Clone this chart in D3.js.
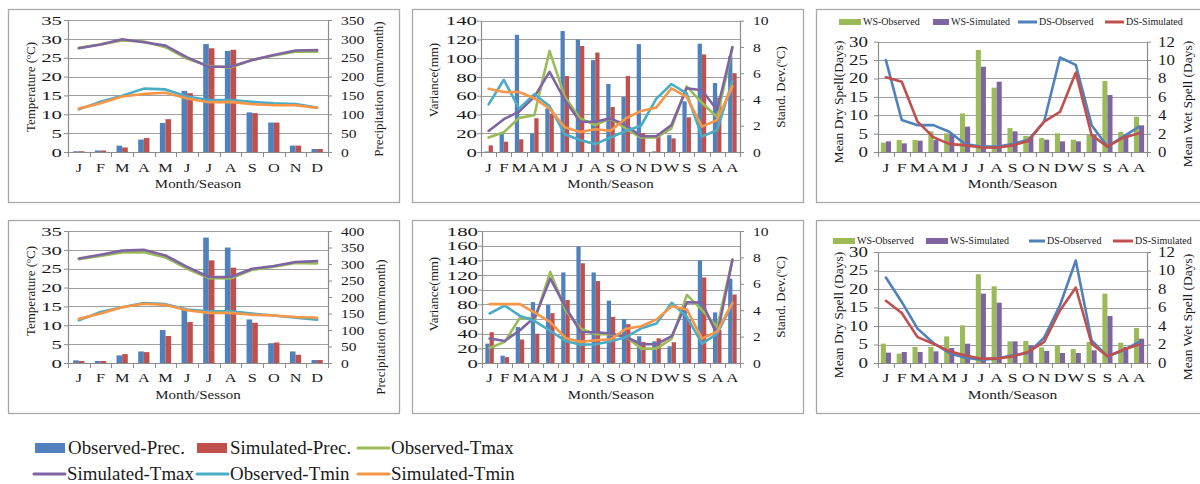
<!DOCTYPE html>
<html>
<head>
<meta charset="utf-8">
<script src="https://cdn.jsdelivr.net/npm/d3@7"></script>
<style>
  body { margin: 0; background: #fff; }
  svg { display: block; }
  text { font-family: "Liberation Serif", "Times New Roman", serif; fill: #1a1a1a; }
</style>
</head>
<body>
<svg id="chart" width="1200" height="484"></svg>
<script>
// ---- categories ----
const months = ["J","F","M","A","M","J","J","A","S","O","N","D"];
const monthsSeasons = ["J","F","M","A","M","J","J","A","S","O","N","D","W","S","S","A","A"];

// ---- tick labels ----
const tempTicks = [0,5,10,15,20,25,30,35];
const precTicksTop = [0,50,100,150,200,250,300,350];
const precTicksBottom = [0,50,100,150,200,250,300,350,400];
const varTicksTop = [0,20,40,60,80,100,120,140];
const varTicksBottom = [0,20,40,60,80,100,120,140,160,180];
const sdTicks = [0,2,4,6,8,10];
const dryTicks = [0,5,10,15,20,25,30];
const wetTicks = [0,2,4,6,8,10,12];

// ---- station A: monthly precipitation (mm/month) and temperature (°C) ----
const obsPrecA = [2,4,17,33,77,162,286,268,105,78,17,8];
const simPrecA = [2,4,12,37,87,156,275,271,103,78,17,8];
const obsTmaxA = [27.6,28.5,29.6,29.3,27.8,24.7,22.8,22.4,24.4,25.6,26.6,26.6];
const simTmaxA = [27.5,28.5,29.9,29.1,28.2,25.1,22.6,22.6,24.4,25.7,26.9,27.0];
const obsTminA = [11.3,13.3,14.9,16.8,16.6,14.7,13.8,13.8,13.3,12.9,12.7,11.8];
const simTminA = [11.5,12.9,14.7,15.4,15.7,14.2,13.2,13.3,12.7,12.4,12.4,11.7];

// ---- station B: monthly precipitation (mm/month) and temperature (°C) ----
const obsPrecB = [8,6,23,35,100,167,380,350,132,60,35,9];
const simPrecB = [6,6,27,33,82,124,311,289,122,62,25,9];
const obsTmaxB = [27.5,28.4,29.3,29.4,28.0,25.0,22.5,22.4,24.7,25.5,26.5,26.4];
const simTmaxB = [27.7,28.7,29.8,30.0,28.5,25.5,22.8,22.8,25.0,25.7,26.8,27.0];
const obsTminB = [11.3,13.5,14.8,15.9,15.6,14.2,13.7,13.7,13.1,12.6,12.0,11.5];
const simTminB = [11.7,13.1,14.8,15.7,15.4,14.0,13.3,13.3,12.8,12.6,12.2,12.0];

// ---- station A: variance of precipitation (mm) and std. dev. of temperature (°C) ----
const obsVarA = [0.5,21,125,20,46.5,129,120,98,72.5,58.6,115,0.7,18,54,115.5,73.5,102];
const simVarA = [7,11,13.5,36,41,81,113,106,48,81,20,18,14.5,37,104,58,84];
const obsSdTmaxA = [1.1,1.5,2.6,2.8,7.7,4.2,2.56,2.05,2.56,1.8,1.1,1.1,1.8,5.0,3.75,2.65,7.9];
const simSdTmaxA = [1.6,2.5,3.07,4.2,6.1,3.96,2.3,2.3,2.56,2.05,1.2,1.2,2.05,4.85,4.7,3.2,8.0];
const obsSdTminA = [3.63,5.5,3.3,4.4,3.5,1.35,0.91,0.6,1.1,1.6,2.0,4.05,5.18,4.47,1.17,1.68,5.4];
const simSdTminA = [4.82,4.57,4.57,4.09,3.3,1.88,1.52,1.73,1.62,2.56,3.12,3.38,4.85,4.2,1.93,2.44,5.0];

// ---- station B: variance of precipitation (mm) and std. dev. of temperature (°C) ----
const obsVarB = [26.4,10,49,83,79,123.5,158.6,123.5,85,60,36.5,29.6,22.8,72,140,69,115];
const simVarB = [42,8,32,40,68,86,136,111.7,63,53,28.7,33.7,28.3,60,116.7,45,93.4];
const obsSdTmaxB = [1.14,1.6,3.44,3.37,6.9,4.0,2.6,2.18,2.18,1.97,1.09,1.09,1.85,5.16,4.0,2.73,7.85];
const simSdTmaxB = [1.85,1.67,2.48,3.5,6.4,4.25,2.35,2.33,2.23,1.97,1.42,1.42,2.03,4.6,4.58,2.1,7.8];
const obsSdTminB = [3.75,4.35,3.57,3.16,2.43,1.67,1.39,1.42,1.65,1.97,2.63,3.0,4.56,3.5,1.47,2.23,4.5];
const simSdTminB = [4.46,4.46,4.46,3.8,3.1,1.9,1.6,1.72,1.8,2.6,2.78,3.3,4.3,4.05,1.85,2.4,4.56];

// ---- station A: mean wet spell (days, bars) and mean dry spell (days, lines) ----
const wsObsA = [1.02,1.3,1.3,2.25,2.03,4.2,11.1,7.0,2.6,1.74,1.52,2.03,1.34,1.85,7.72,2.18,3.84];
const wsSimA = [1.16,0.94,1.23,1.3,1.92,2.76,9.28,7.65,2.25,1.67,1.34,1.16,1.16,1.89,6.2,1.81,2.9];
const dsObsA = [25.0,8.7,7.3,7.3,5.5,2.2,1.5,1.45,2.2,3.3,8.3,25.7,23.7,7.3,1.5,4.2,6.9];
const dsSimA = [20.3,19.1,8.25,4.0,2.2,1.8,1.27,1.18,1.8,3.0,8.25,10.9,21.6,4.6,1.45,3.9,5.1];

// ---- station B: mean wet spell (days, bars) and mean dry spell (days, lines) ----
const wsObsB = [2.09,1.01,1.73,1.73,2.88,4.07,9.59,8.29,2.34,2.38,1.69,1.84,1.51,2.27,7.5,2.2,3.78];
const wsSimB = [1.12,1.19,1.19,1.26,1.62,2.09,7.5,6.52,2.34,1.91,1.3,1.08,1.08,1.37,5.08,1.73,2.63];
const dsObsB = [23.1,16.5,9.3,5.4,2.7,1.44,0.9,1.17,2.07,2.7,6.85,15.6,27.7,6.1,1.8,3.4,5.7];
const dsSimB = [16.8,13.5,7.0,5.2,3.2,2.07,1.17,1.17,1.8,3.0,5.7,14.2,20.4,5.2,1.8,3.6,5.0];

// ---- palette ----
const C = {
  blue: "#4F81BD", red: "#C0504D", green: "#9BBB59",
  purple: "#8064A2", aqua: "#4BACC6", orange: "#F79646"
};
const GRID = "#a0a0a0", AXIS = "#8c8c8c", FRAME = "#a8a8a8";

const svg = d3.select("#chart");

function drawPanel(p) {
  const g = svg.append("g");
  const [fx0, fy0, fx1, fy1] = p.frame;
  g.append("rect")
    .attr("x", fx0 + 0.5).attr("y", fy0 + 0.5)
    .attr("width", fx1 - fx0).attr("height", fy1 - fy0)
    .attr("fill", "#fff").attr("stroke", FRAME).attr("stroke-width", 1.3);

  const n = p.cats.length;
  const x = d3.scaleBand().domain(d3.range(n)).range([p.x0, p.x1]);
  const yL = d3.scaleLinear().domain([0, d3.max(p.lTicks)]).range([p.y1, p.y0]);
  const yR = d3.scaleLinear().domain([0, d3.max(p.rTicks)]).range([p.y1, p.y0]);
  const cx = j => x(j) + x.bandwidth() / 2;

  // horizontal gridlines on the primary axis
  g.append("g").selectAll("line").data(p.lTicks.slice(1)).join("line")
    .attr("x1", p.x0).attr("x2", p.x1)
    .attr("y1", d => Math.round(yL(d)) + 0.5).attr("y2", d => Math.round(yL(d)) + 0.5)
    .attr("stroke", GRID).attr("stroke-width", 1);

  // clustered bars
  const yB = p.barsOn === "L" ? yL : yR;
  const bw = x.bandwidth() * p.barRatio;
  p.bars.forEach((s, i) => {
    g.append("g").selectAll("rect").data(s.values).join("rect")
      .attr("x", (d, j) => cx(j) - bw + i * bw)
      .attr("width", bw)
      .attr("y", d => yB(d))
      .attr("height", d => yB(0) - yB(d))
      .attr("fill", s.color);
  });

  // axes
  const axL = g.append("g").attr("transform", `translate(${p.x0},0)`)
    .call(d3.axisLeft(yL).tickValues(p.lTicks).tickSize(4).tickSizeOuter(0));
  const axR = g.append("g").attr("transform", `translate(${p.x1},0)`)
    .call(d3.axisRight(yR).tickValues(p.rTicks).tickSize(4).tickSizeOuter(0));
  const axB = g.append("g").attr("transform", `translate(0,${p.y1})`)
    .call(d3.axisBottom(x).tickFormat(j => p.cats[j]).tickSize(0));

  [axL, axR, axB].forEach(a => {
    a.select(".domain").attr("stroke", AXIS).attr("stroke-width", 1.2);
    a.selectAll(".tick line").attr("stroke", AXIS);
  });
  axL.selectAll("text")
    .attr("font-size", p.tickFont).attr("font-family", null)
    .attr("x", -p.lGap / p.lStretch)
    .attr("transform", `scale(${p.lStretch},1)`);
  axR.selectAll("text")
    .attr("font-size", p.tickFont).attr("font-family", null)
    .attr("x", p.rGap / p.rStretch)
    .attr("transform", `scale(${p.rStretch},1)`);
  axB.selectAll("text")
    .attr("font-size", p.catFont).attr("font-family", null)
    .attr("y", p.catY - p.y1).attr("dy", "0.35em")
    .attr("transform", `scale(${p.catStretch},1)`);

  // category boundary tick marks
  const bounds = d3.range(n).map(j => x(j)).concat([x.range()[1]]);
  g.append("g").selectAll("line").data(bounds).join("line")
    .attr("x1", d => Math.round(d) + 0.5).attr("x2", d => Math.round(d) + 0.5)
    .attr("y1", p.y1).attr("y2", p.y1 + 5)
    .attr("stroke", AXIS);

  // lines
  const yLn = p.linesOn === "L" ? yL : yR;
  const line = d3.line().x((d, j) => cx(j)).y(d => yLn(d));
  p.lines.forEach(s => {
    g.append("path").datum(s.values)
      .attr("d", line).attr("fill", "none")
      .attr("stroke", s.color).attr("stroke-width", 2.6)
      .attr("stroke-linejoin", "round").attr("stroke-linecap", "round");
  });

  // titles
  g.append("text")
    .attr("transform", `translate(${(p.x0 + p.x1) / 2},${p.xTitleY}) scale(1.15,1)`)
    .attr("text-anchor", "middle").attr("dy", "0.35em")
    .attr("font-size", p.titleFont)
    .text(p.xTitle);
  g.append("text")
    .attr("transform", `translate(${p.lTitle[1]},${p.lTitle[2]}) rotate(-90)`)
    .attr("text-anchor", "middle").attr("dy", "0.35em")
    .attr("font-size", p.titleFont).text(p.lTitle[0]);
  g.append("text")
    .attr("transform", `translate(${p.rTitle[1]},${p.rTitle[2]}) rotate(-90)`)
    .attr("text-anchor", "middle").attr("dy", "0.35em")
    .attr("font-size", p.titleFont).text(p.rTitle[0]);

  // in-panel legend (spell charts)
  if (p.legend) {
    p.legend.items.forEach(it => {
      if (it.type === "bar") {
        g.append("rect").attr("x", it.x).attr("y", p.legend.y - 3)
          .attr("width", it.w).attr("height", 6).attr("fill", it.color);
      } else {
        g.append("line").attr("x1", it.x).attr("x2", it.x + it.w)
          .attr("y1", p.legend.y).attr("y2", p.legend.y)
          .attr("stroke", it.color).attr("stroke-width", 3);
      }
      g.append("text").attr("x", it.x + it.w + 2).attr("y", p.legend.y)
        .attr("dy", "0.32em").attr("font-size", 10).text(it.label);
    });
  }
}

const climateCommon = {
  cats: months, barsOn: "R", linesOn: "L", barRatio: 0.26,
  tickFont: 13, lGap: 6, lStretch: 1.6, rGap: 13, rStretch: 1.2,
  catFont: 13, catStretch: 1.25, titleFont: 13
};

drawPanel(Object.assign({}, climateCommon, {
  frame: [8, 9, 399, 202], x0: 68, x1: 328, y0: 20, y1: 152,
  lTicks: tempTicks, rTicks: precTicksTop, catY: 167, xTitleY: 183,
  xTitle: "Month/Season",
  lTitle: ["Temperature (ºC)", 30, 87], rTitle: ["Precipitation (mm/month)", 378, 89],
  bars: [{ values: obsPrecA, color: C.blue }, { values: simPrecA, color: C.red }],
  lines: [
    { values: obsTmaxA, color: C.green }, { values: simTmaxA, color: C.purple },
    { values: obsTminA, color: C.aqua }, { values: simTminA, color: C.orange }
  ]
}));

drawPanel(Object.assign({}, climateCommon, {
  frame: [8, 220, 399, 413], x0: 68, x1: 328, y0: 231, y1: 363,
  lTicks: tempTicks, rTicks: precTicksBottom, catY: 377, xTitleY: 394,
  xTitle: "Month/Sesson",
  lTitle: ["Temperature (ºC)", 30, 291], rTitle: ["Precipitation (mm/month)", 380, 327],
  bars: [{ values: obsPrecB, color: C.blue }, { values: simPrecB, color: C.red }],
  lines: [
    { values: obsTmaxB, color: C.green }, { values: simTmaxB, color: C.purple },
    { values: obsTminB, color: C.aqua }, { values: simTminB, color: C.orange }
  ]
}));

const varCommon = {
  cats: monthsSeasons, barsOn: "L", linesOn: "R", barRatio: 0.28,
  tickFont: 13, lGap: 4, lStretch: 1.6, rGap: 13, rStretch: 1.2,
  catFont: 13, catStretch: 1.3, titleFont: 13
};

drawPanel(Object.assign({}, varCommon, {
  frame: [412, 9, 803, 202], x0: 481, x1: 740, y0: 20.7, y1: 152,
  lTicks: varTicksTop, rTicks: sdTicks, catY: 167, xTitleY: 183,
  xTitle: "Month/Season",
  lTitle: ["Variance(mm)", 433, 80], rTitle: ["Stand. Dev.(ºC)", 780, 87],
  bars: [{ values: obsVarA, color: C.blue }, { values: simVarA, color: C.red }],
  lines: [
    { values: obsSdTmaxA, color: C.green }, { values: simSdTmaxA, color: C.purple },
    { values: obsSdTminA, color: C.aqua }, { values: simSdTminA, color: C.orange }
  ]
}));

drawPanel(Object.assign({}, varCommon, {
  frame: [412, 220, 803, 413], x0: 482, x1: 740, y0: 231, y1: 363,
  lTicks: varTicksBottom, rTicks: sdTicks, catY: 377, xTitleY: 394,
  xTitle: "Month/Season",
  lTitle: ["Variance(mm)", 433, 294], rTitle: ["Stand. Dev.(ºC)", 780, 297],
  bars: [{ values: obsVarB, color: C.blue }, { values: simVarB, color: C.red }],
  lines: [
    { values: obsSdTmaxB, color: C.green }, { values: simSdTmaxB, color: C.purple },
    { values: obsSdTminB, color: C.aqua }, { values: simSdTminB, color: C.orange }
  ]
}));

const spellCommon = {
  cats: monthsSeasons, barsOn: "R", linesOn: "L", barRatio: 0.32,
  tickFont: 14, lGap: 10, lStretch: 1.35, rGap: 11, rStretch: 1.2,
  catFont: 13.5, catStretch: 1.3, titleFont: 13.5
};

drawPanel(Object.assign({}, spellCommon, {
  frame: [816, 9, 1212, 202], x0: 878, x1: 1147, y0: 41.7, y1: 152,
  lTicks: dryTicks, rTicks: wetTicks, catY: 167, xTitleY: 183,
  xTitle: "Month/Season",
  lTitle: ["Mean Dry Spell(Days)", 838, 102], rTitle: ["Mean Wet Spell (Days)", 1187, 104],
  bars: [{ values: wsObsA, color: C.green }, { values: wsSimA, color: C.purple }],
  lines: [{ values: dsObsA, color: C.blue }, { values: dsSimA, color: C.red }],
  legend: { y: 22, items: [
    { type: "bar", x: 839, w: 22, color: C.green, label: "WS-Observed" },
    { type: "bar", x: 933, w: 16, color: C.purple, label: "WS-Simulated" },
    { type: "line", x: 1018, w: 19, color: C.blue, label: "DS-Observed" },
    { type: "line", x: 1105, w: 19, color: C.red, label: "DS-Simulated" }
  ] }
}));

drawPanel(Object.assign({}, spellCommon, {
  frame: [816, 220, 1212, 413], x0: 878, x1: 1147, y0: 252, y1: 363,
  lTicks: dryTicks, rTicks: wetTicks, catY: 377, xTitleY: 394,
  xTitle: "Month/Season",
  lTitle: ["Mean Dry Spell (Days)", 838, 315], rTitle: ["Mean Wet Spell (Days)", 1187, 317],
  bars: [{ values: wsObsB, color: C.green }, { values: wsSimB, color: C.purple }],
  lines: [{ values: dsObsB, color: C.blue }, { values: dsSimB, color: C.red }],
  legend: { y: 241, items: [
    { type: "bar", x: 833, w: 22, color: C.green, label: "WS-Observed" },
    { type: "bar", x: 926, w: 22, color: C.purple, label: "WS-Simulated" },
    { type: "line", x: 1029, w: 16, color: C.blue, label: "DS-Observed" },
    { type: "line", x: 1113, w: 20, color: C.red, label: "DS-Simulated" }
  ] }
}));

// ---- shared legend for the temperature / precipitation series ----
const legendItems = [
  { type: "bar",  color: C.blue,   label: "Observed-Prec.",  x: 35,  y: 448 },
  { type: "bar",  color: C.red,    label: "Simulated-Prec.", x: 197, y: 448 },
  { type: "line", color: C.green,  label: "Observed-Tmax",   x: 358, y: 448 },
  { type: "line", color: C.purple, label: "Simulated-Tmax",  x: 34,  y: 474 },
  { type: "line", color: C.aqua,   label: "Observed-Tmin",   x: 197, y: 474 },
  { type: "line", color: C.orange, label: "Simulated-Tmin",  x: 358, y: 474 }
];
const lg = svg.append("g");
legendItems.forEach(it => {
  if (it.type === "bar") {
    lg.append("rect").attr("x", it.x).attr("y", it.y - 5).attr("width", 30).attr("height", 10).attr("fill", it.color);
  } else {
    lg.append("line").attr("x1", it.x).attr("x2", it.x + 31).attr("y1", it.y).attr("y2", it.y)
      .attr("stroke", it.color).attr("stroke-width", 3).attr("stroke-linecap", "round");
  }
  lg.append("text")
    .attr("transform", `translate(${it.x + 33},${it.y}) scale(1.05,1)`)
    .attr("dy", "0.35em")
    .attr("font-size", 18).text(it.label);
});
</script>
</body>
</html>
